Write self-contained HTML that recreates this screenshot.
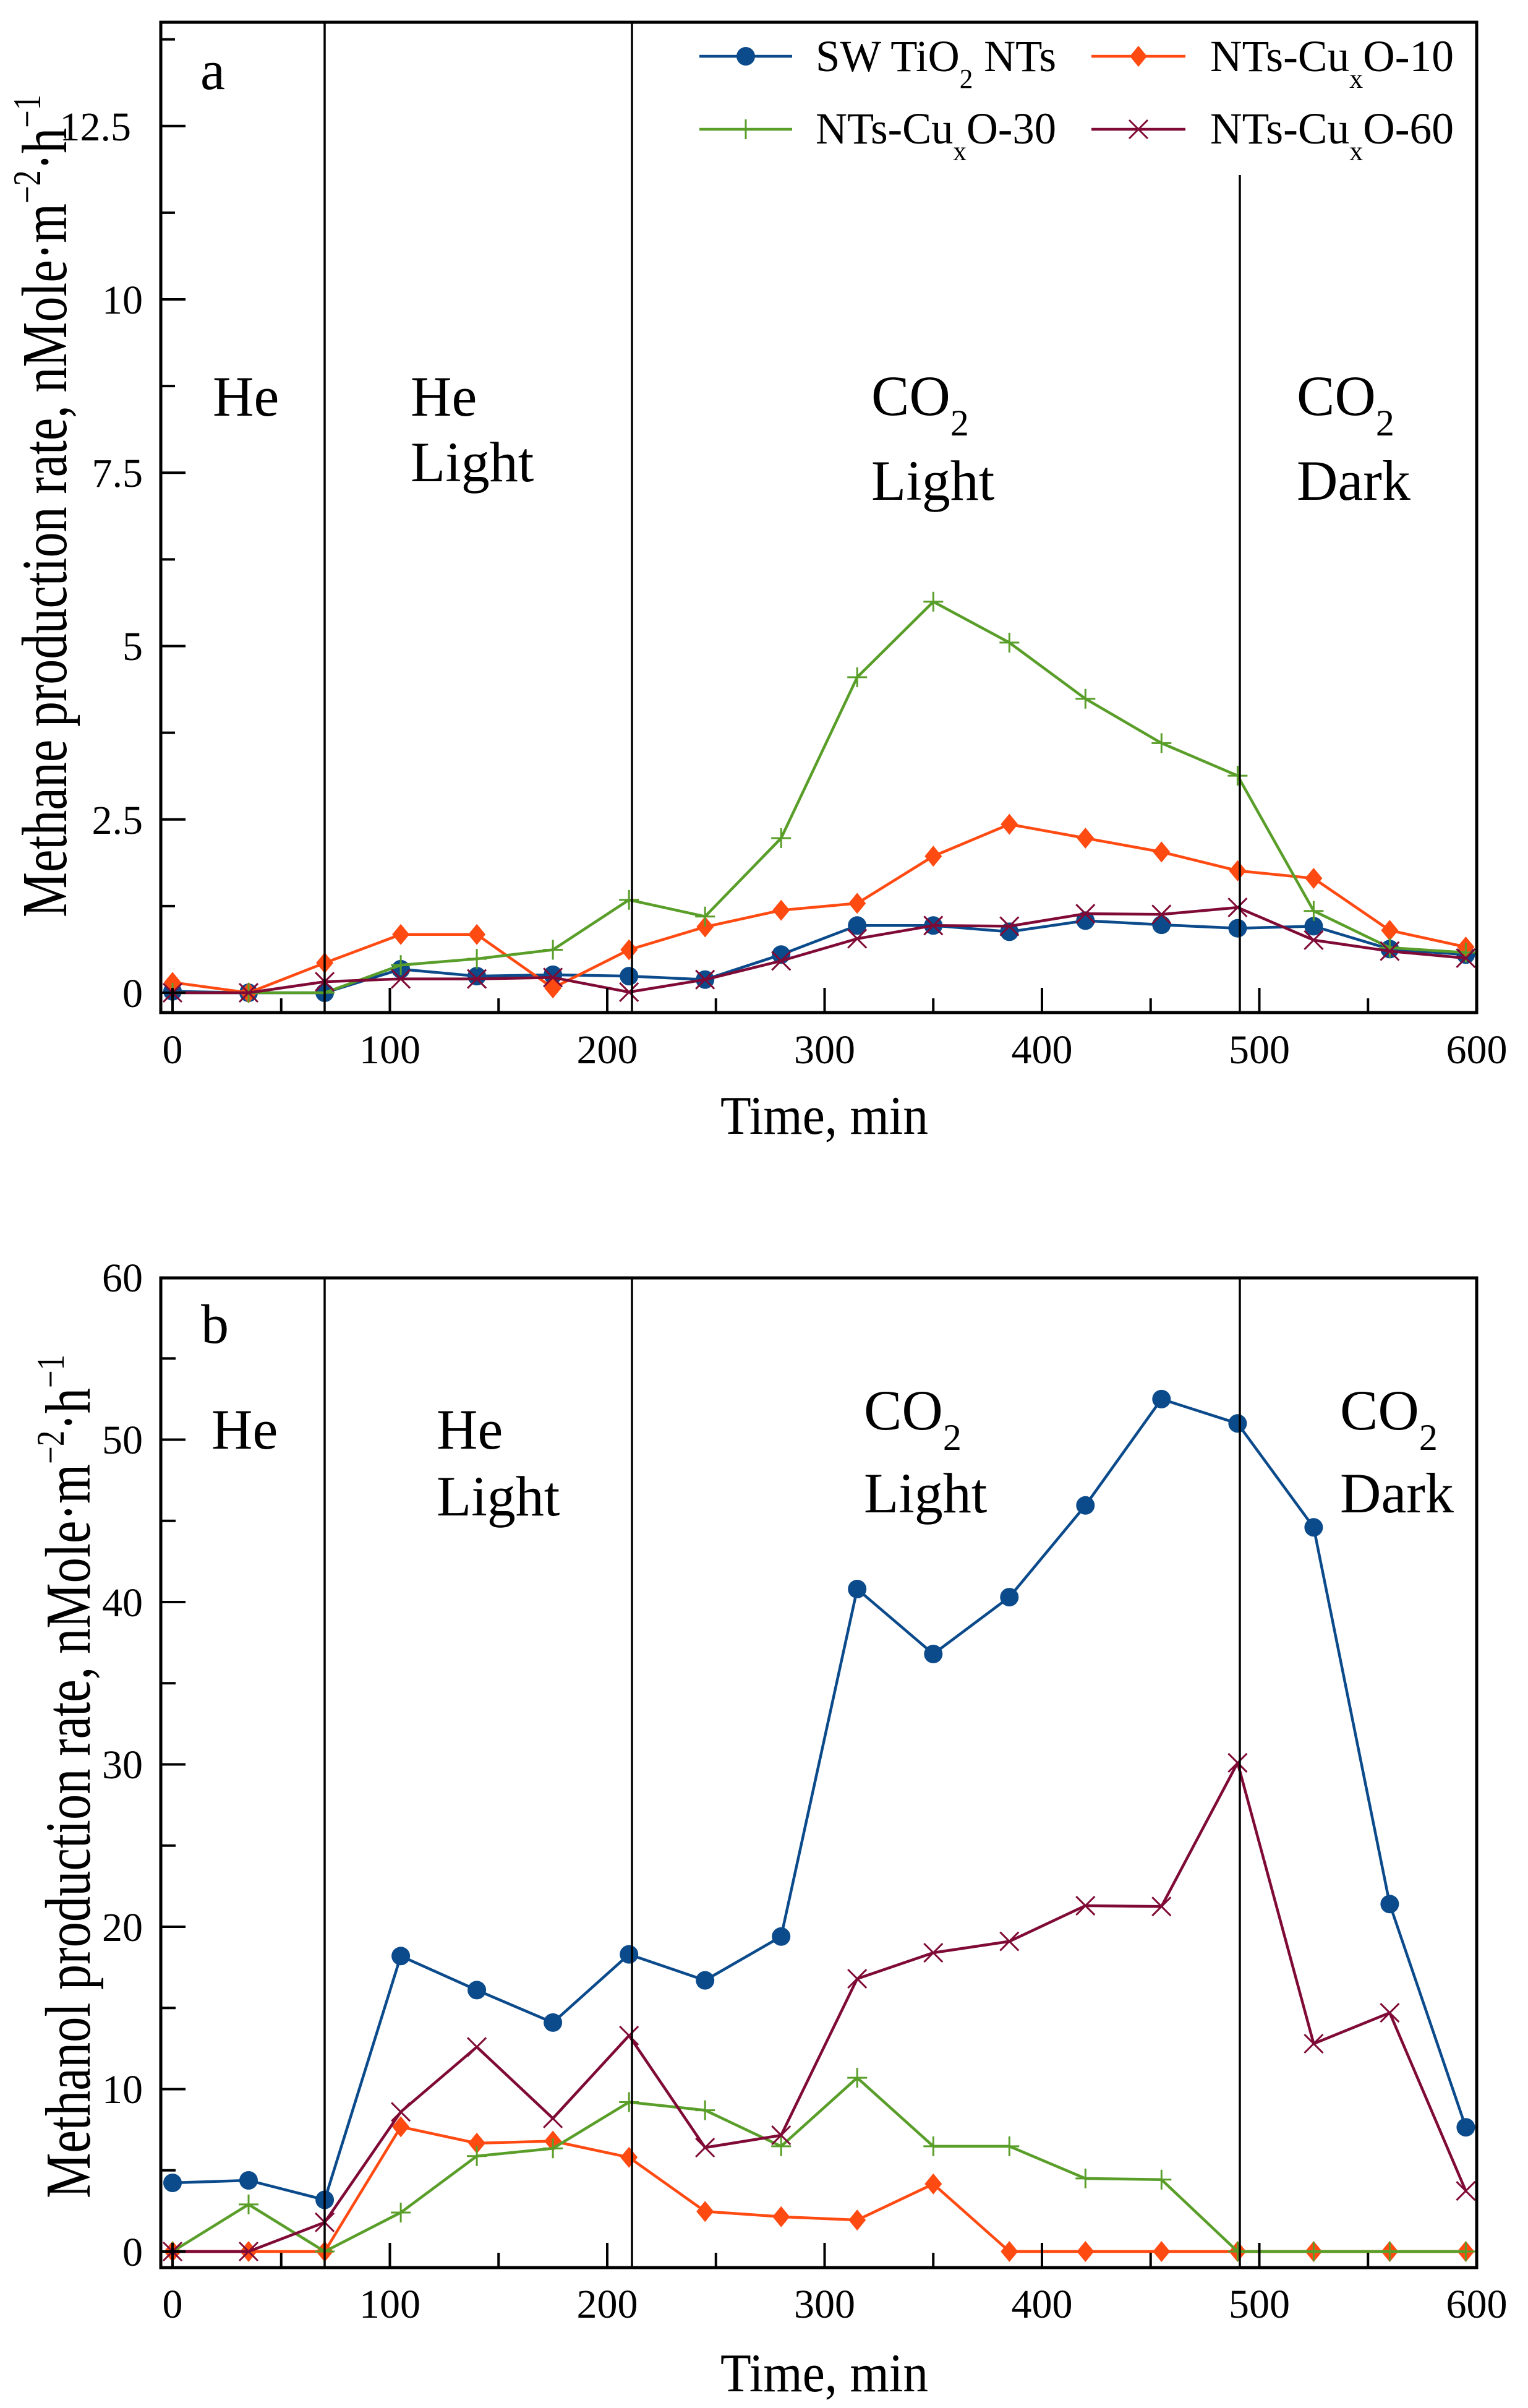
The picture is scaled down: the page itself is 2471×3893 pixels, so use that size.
<!DOCTYPE html>
<html>
<head>
<meta charset="utf-8">
<style>
html,body{margin:0;padding:0;background:#fff;}
svg{display:block;}
text{font-family:"Liberation Serif","Times New Roman",serif;fill:#000;}
</style>
</head>
<body>
<svg xmlns="http://www.w3.org/2000/svg" width="2471" height="3893" viewBox="0 0 2471 3893">
<defs>
<marker id="mc" markerWidth="34" markerHeight="34" refX="17" refY="17" markerUnits="userSpaceOnUse"><circle cx="17" cy="17" r="15" fill="#0b4a8b"/></marker>
<marker id="md" markerWidth="34" markerHeight="38" refX="17" refY="19" markerUnits="userSpaceOnUse"><path d="M17 2 L31 19 L17 36 L3 19Z" fill="#ff4a12"/></marker>
<marker id="mp" markerWidth="38" markerHeight="38" refX="19" refY="19" markerUnits="userSpaceOnUse"><path d="M19 3V35M3 19H35" stroke="#5a9e2a" stroke-width="3"/></marker>
<marker id="mx" markerWidth="38" markerHeight="38" refX="19" refY="19" markerUnits="userSpaceOnUse"><path d="M4 4L34 34M34 4L4 34" stroke="#7f0a35" stroke-width="3"/></marker>
</defs>
<rect width="2471" height="3893" fill="#fff"/>

<!-- ================= PANEL A ================= -->
<g fill="none" stroke-width="4.5" stroke-linejoin="round">
<polyline stroke="#0b4a8b" marker-start="url(#mc)" marker-mid="url(#mc)" marker-end="url(#mc)" points="279,1602.8 402,1605 525.1,1605 648.1,1566.9 771.1,1578.1 894.1,1575.9 1017.2,1578.1 1140.2,1583.7 1263.2,1543.3 1386.2,1496.3 1509.3,1496.3 1632.3,1506.4 1755.3,1488.4 1878.3,1495.1 2001.4,1500.7 2124.4,1497.4 2247.4,1534.4 2370.4,1543.3"/>
<polyline stroke="#ff4a12" marker-start="url(#md)" marker-mid="url(#md)" marker-end="url(#md)" points="279,1588.2 402,1605 525.1,1556.8 648.1,1510.8 771.1,1510.8 894.1,1597.2 1017.2,1535.5 1140.2,1498.5 1263.2,1471.6 1386.2,1460.4 1509.3,1384.2 1632.3,1332.6 1755.3,1355 1878.3,1377.4 2001.4,1407.7 2124.4,1420 2247.4,1504.1 2370.4,1531"/>
<polyline stroke="#5a9e2a" marker-start="url(#mp)" marker-mid="url(#mp)" marker-end="url(#mp)" points="279,1605 402,1605 525.1,1605 648.1,1560.2 771.1,1550.1 894.1,1535.5 1017.2,1454.8 1140.2,1481.7 1263.2,1355 1386.2,1094.9 1509.3,972.8 1632.3,1038.9 1755.3,1129.7 1878.3,1201.4 2001.4,1254.1 2124.4,1472.7 2247.4,1532.1 2370.4,1540"/>
<polyline stroke="#7f0a35" marker-start="url(#mx)" marker-mid="url(#mx)" marker-end="url(#mx)" points="279,1605 402,1605 525.1,1587.1 648.1,1582.6 771.1,1582.6 894.1,1580.3 1017.2,1603.9 1140.2,1583.7 1263.2,1553.4 1386.2,1517.6 1509.3,1496.3 1632.3,1497.4 1755.3,1477.2 1878.3,1478.3 2001.4,1467.1 2124.4,1519.8 2247.4,1537.7 2370.4,1549"/>
</g>
<!-- dividers a -->
<g stroke="#000" stroke-width="3.5">
<line x1="525" y1="36" x2="525" y2="1637"/>
<line x1="1022" y1="36" x2="1022" y2="1637"/>
<line x1="2005" y1="283" x2="2005" y2="1637"/>
</g>
<!-- frame a -->
<rect x="260" y="36" width="2128" height="1601" fill="none" stroke="#000" stroke-width="5"/>
<!-- ticks a -->
<g stroke="#000" stroke-width="4">
<line x1="260" y1="1605" x2="300" y2="1605"/><line x1="260" y1="1324.75" x2="300" y2="1324.75"/><line x1="260" y1="1044.5" x2="300" y2="1044.5"/><line x1="260" y1="764.25" x2="300" y2="764.25"/><line x1="260" y1="484" x2="300" y2="484"/><line x1="260" y1="203.75" x2="300" y2="203.75"/>
<line x1="260" y1="1464.9" x2="283" y2="1464.9"/><line x1="260" y1="1184.6" x2="283" y2="1184.6"/><line x1="260" y1="904.4" x2="283" y2="904.4"/><line x1="260" y1="624.1" x2="283" y2="624.1"/><line x1="260" y1="343.9" x2="283" y2="343.9"/><line x1="260" y1="63.6" x2="283" y2="63.6"/>
<line x1="279" y1="1637" x2="279" y2="1597"/><line x1="630.5" y1="1637" x2="630.5" y2="1597"/><line x1="982" y1="1637" x2="982" y2="1597"/><line x1="1333.5" y1="1637" x2="1333.5" y2="1597"/><line x1="1685" y1="1637" x2="1685" y2="1597"/><line x1="2036.5" y1="1637" x2="2036.5" y2="1597"/>
<line x1="454.75" y1="1637" x2="454.75" y2="1614"/><line x1="806.25" y1="1637" x2="806.25" y2="1614"/><line x1="1157.75" y1="1637" x2="1157.75" y2="1614"/><line x1="1509.25" y1="1637" x2="1509.25" y2="1614"/><line x1="1860.75" y1="1637" x2="1860.75" y2="1614"/><line x1="2212.25" y1="1637" x2="2212.25" y2="1614"/>
</g>
<!-- tick labels a -->
<g font-size="66" text-anchor="end">
<text x="231" y="1628">0</text>
<text x="231" y="1348">2.5</text>
<text x="231" y="1067">5</text>
<text x="231" y="787">7.5</text>
<text x="231" y="507">10</text>
<text x="212" y="227">12.5</text>
</g>
<g font-size="66" text-anchor="middle">
<text x="279" y="1719">0</text>
<text x="630.5" y="1719">100</text>
<text x="982" y="1719">200</text>
<text x="1333.5" y="1719">300</text>
<text x="1685" y="1719">400</text>
<text x="2036.5" y="1719">500</text>
<text x="2388" y="1719">600</text>
</g>
<text x="1333" y="1833" font-size="88" text-anchor="middle" textLength="336" lengthAdjust="spacingAndGlyphs">Time, min</text>
<text transform="translate(107,818) rotate(-90)" font-size="104" text-anchor="middle" textLength="1330" lengthAdjust="spacingAndGlyphs">Methane production rate, nMole·m<tspan font-size="64" dy="-42">−2</tspan><tspan dy="42">·h</tspan><tspan font-size="64" dy="-42">−1</tspan></text>
<!-- labels a -->
<g font-size="92">
<text x="324" y="144" font-size="90">a</text>
<text x="344" y="672">He</text>
<text x="664" y="672">He</text>
<text x="664" y="778">Light</text>
<text x="1409" y="671">CO<tspan font-size="60" dy="33">2</tspan></text>
<text x="1409" y="808">Light</text>
<text x="2097" y="671">CO<tspan font-size="60" dy="33">2</tspan></text>
<text x="2097" y="808">Dark</text>
</g>
<!-- legend -->
<g fill="none" stroke-width="4.5">
<line x1="1131" y1="91" x2="1281" y2="91" stroke="#0b4a8b"/>
<line x1="1765" y1="91" x2="1917" y2="91" stroke="#ff4a12"/>
<line x1="1131" y1="209" x2="1281" y2="209" stroke="#5a9e2a"/>
<line x1="1765" y1="209" x2="1917" y2="209" stroke="#7f0a35"/>
</g>
<circle cx="1206" cy="91" r="15" fill="#0b4a8b"/>
<path d="M1841 74 L1855 91 L1841 108 L1827 91Z" fill="#ff4a12"/>
<path d="M1206 193V225M1190 209H1222" stroke="#5a9e2a" stroke-width="3"/>
<path d="M1826 194L1856 224M1856 194L1826 224" stroke="#7f0a35" stroke-width="3"/>
<g font-size="72">
<text x="1319" y="115" textLength="389" lengthAdjust="spacingAndGlyphs">SW TiO<tspan font-size="44" dy="27">2</tspan><tspan dy="-27"> NTs</tspan></text>
<text x="1957" y="115" textLength="394" lengthAdjust="spacingAndGlyphs">NTs-Cu<tspan font-size="44" dy="27">x</tspan><tspan dy="-27">O-10</tspan></text>
<text x="1319" y="232" textLength="389" lengthAdjust="spacingAndGlyphs">NTs-Cu<tspan font-size="44" dy="27">x</tspan><tspan dy="-27">O-30</tspan></text>
<text x="1957" y="232" textLength="394" lengthAdjust="spacingAndGlyphs">NTs-Cu<tspan font-size="44" dy="27">x</tspan><tspan dy="-27">O-60</tspan></text>
</g>

<!-- ================= PANEL B ================= -->
<g fill="none" stroke-width="4.5" stroke-linejoin="round">
<polyline stroke="#0b4a8b" marker-start="url(#mc)" marker-mid="url(#mc)" marker-end="url(#mc)" points="279,3529 402,3525 525.1,3556.5 648.1,3162.3 771.1,3217.4 894.1,3269.9 1017.2,3159.6 1140.2,3201.6 1263.2,3130.8 1386.2,2569 1509.3,2674 1632.3,2582.1 1755.3,2433.8 1878.3,2261.9 2001.4,2301.3 2124.4,2469.3 2247.4,3078.3 2370.4,3439.2"/>
<polyline stroke="#ff4a12" marker-start="url(#md)" marker-mid="url(#md)" marker-end="url(#md)" points="279,3640 402,3640 525.1,3640 648.1,3438.4 771.1,3464.9 894.1,3461.5 1017.2,3487.8 1140.2,3575.2 1263.2,3583.8 1386.2,3589.1 1509.3,3530.8 1632.3,3640 1755.3,3640 1878.3,3640 2001.4,3640 2124.4,3640 2247.4,3640 2370.4,3640"/>
<polyline stroke="#5a9e2a" marker-start="url(#mp)" marker-mid="url(#mp)" marker-end="url(#mp)" points="279,3640 402,3563.9 525.1,3640 648.1,3577 771.1,3485.7 894.1,3473.3 1017.2,3398.5 1140.2,3411.6 1263.2,3469.9 1386.2,3359.1 1509.3,3469.9 1632.3,3469.9 1755.3,3521.9 1878.3,3523.7 2001.4,3640 2124.4,3640 2247.4,3640 2370.4,3640"/>
<polyline stroke="#7f0a35" marker-start="url(#mx)" marker-mid="url(#mx)" marker-end="url(#mx)" points="279,3640 402,3640 525.1,3592.8 648.1,3414.3 771.1,3309.3 894.1,3424.8 1017.2,3290.9 1140.2,3472 1263.2,3452.1 1386.2,3199 1509.3,3157 1632.3,3138.6 1755.3,3080.9 1878.3,3082.2 2001.4,2849.9 2124.4,3304 2247.4,3254.1 2370.4,3542.1"/>
</g>
<g stroke="#000" stroke-width="3.5">
<line x1="525" y1="2066" x2="525" y2="3666"/>
<line x1="1022" y1="2066" x2="1022" y2="3666"/>
<line x1="2005" y1="2066" x2="2005" y2="3666"/>
</g>
<rect x="260" y="2066" width="2128" height="1600" fill="none" stroke="#000" stroke-width="5"/>
<g stroke="#000" stroke-width="4">
<line x1="260" y1="3640" x2="300" y2="3640"/><line x1="260" y1="3377.5" x2="300" y2="3377.5"/><line x1="260" y1="3115" x2="300" y2="3115"/><line x1="260" y1="2852.5" x2="300" y2="2852.5"/><line x1="260" y1="2590" x2="300" y2="2590"/><line x1="260" y1="2327.5" x2="300" y2="2327.5"/>
<line x1="260" y1="3508.75" x2="284" y2="3508.75"/><line x1="260" y1="3246.25" x2="284" y2="3246.25"/><line x1="260" y1="2983.75" x2="284" y2="2983.75"/><line x1="260" y1="2721.25" x2="284" y2="2721.25"/><line x1="260" y1="2458.75" x2="284" y2="2458.75"/><line x1="260" y1="2196.25" x2="284" y2="2196.25"/>
<line x1="279" y1="3666" x2="279" y2="3626"/><line x1="630.5" y1="3666" x2="630.5" y2="3626"/><line x1="982" y1="3666" x2="982" y2="3626"/><line x1="1333.5" y1="3666" x2="1333.5" y2="3626"/><line x1="1685" y1="3666" x2="1685" y2="3626"/><line x1="2036.5" y1="3666" x2="2036.5" y2="3626"/>
<line x1="454.75" y1="3666" x2="454.75" y2="3642"/><line x1="806.25" y1="3666" x2="806.25" y2="3642"/><line x1="1157.75" y1="3666" x2="1157.75" y2="3642"/><line x1="1509.25" y1="3666" x2="1509.25" y2="3642"/><line x1="1860.75" y1="3666" x2="1860.75" y2="3642"/><line x1="2212.25" y1="3666" x2="2212.25" y2="3642"/>
</g>
<g font-size="66" text-anchor="end">
<text x="231" y="3663">0</text>
<text x="231" y="3400">10</text>
<text x="231" y="3138">20</text>
<text x="231" y="2875">30</text>
<text x="231" y="2613">40</text>
<text x="231" y="2350">50</text>
<text x="231" y="2088">60</text>
</g>
<g font-size="66" text-anchor="middle">
<text x="279" y="3747">0</text>
<text x="630.5" y="3747">100</text>
<text x="982" y="3747">200</text>
<text x="1333.5" y="3747">300</text>
<text x="1685" y="3747">400</text>
<text x="2036.5" y="3747">500</text>
<text x="2388" y="3747">600</text>
</g>
<text x="1333" y="3866" font-size="88" text-anchor="middle" textLength="336" lengthAdjust="spacingAndGlyphs">Time, min</text>
<text transform="translate(145,2872) rotate(-90)" font-size="104" text-anchor="middle" textLength="1364" lengthAdjust="spacingAndGlyphs">Methanol production rate, nMole·m<tspan font-size="64" dy="-42">−2</tspan><tspan dy="42">·h</tspan><tspan font-size="64" dy="-42">−1</tspan></text>
<g font-size="92">
<text x="325" y="2171" font-size="90">b</text>
<text x="342" y="2342">He</text>
<text x="706" y="2342">He</text>
<text x="706" y="2450">Light</text>
<text x="1397" y="2311">CO<tspan font-size="60" dy="33">2</tspan></text>
<text x="1397" y="2445">Light</text>
<text x="2167" y="2311">CO<tspan font-size="60" dy="33">2</tspan></text>
<text x="2167" y="2445">Dark</text>
</g>
</svg>
</body>
</html>
